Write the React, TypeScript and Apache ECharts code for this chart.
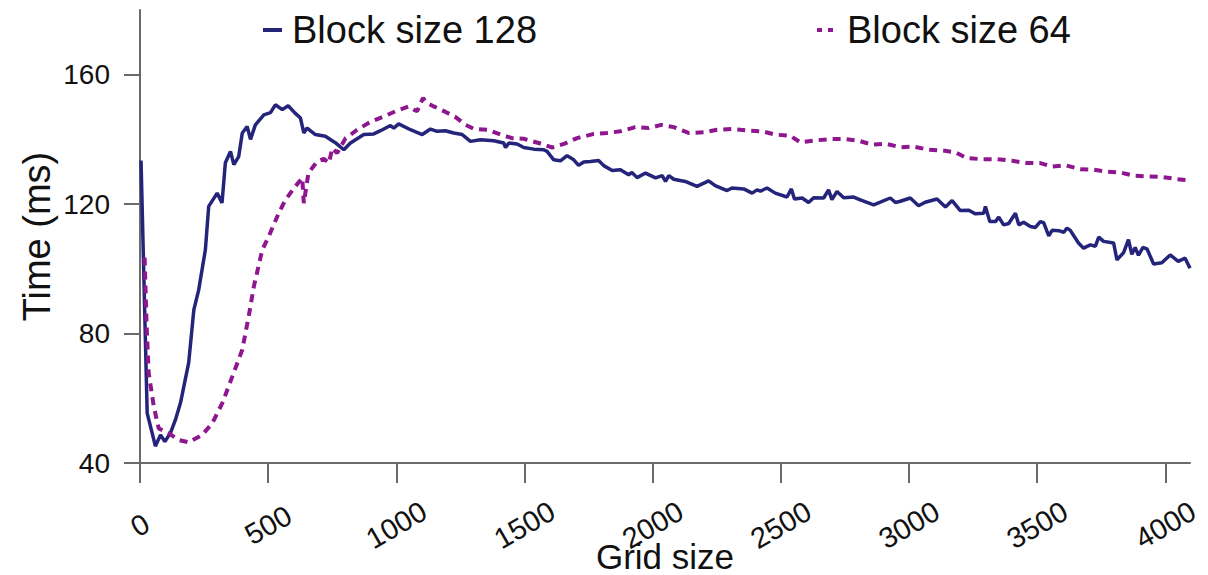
import React, { useEffect, useRef } from "react";
import * as echarts from "echarts";

const gridSize128 = [4, 28, 45, 60, 80, 97, 119, 138, 158, 190, 210, 229, 255, 268, 301, 320, 333, 353, 366, 385, 399, 418, 431, 450, 483, 509, 528, 555, 578, 604, 626, 639, 652, 684, 723, 762, 795, 821, 873, 912, 938, 977, 990, 1009, 1055, 1101, 1133, 1159, 1191, 1224, 1257, 1289, 1328, 1380, 1419, 1426, 1439, 1471, 1497, 1536, 1575, 1588, 1614, 1640, 1666, 1692, 1711, 1731, 1757, 1789, 1809, 1842, 1874, 1906, 1919, 1939, 1972, 2011, 2037, 2050, 2063, 2082, 2127, 2173, 2218, 2244, 2290, 2309, 2355, 2388, 2407, 2420, 2446, 2478, 2524, 2541, 2553, 2583, 2608, 2628, 2667, 2686, 2699, 2719, 2745, 2784, 2810, 2862, 2888, 2927, 2947, 2966, 3005, 3037, 3063, 3109, 3142, 3168, 3200, 3233, 3259, 3291, 3298, 3315, 3337, 3350, 3369, 3389, 3415, 3428, 3447, 3473, 3493, 3512, 3525, 3545, 3558, 3584, 3604, 3616, 3629, 3661, 3681, 3707, 3727, 3740, 3759, 3798, 3811, 3837, 3856, 3869, 3882, 3895, 3912, 3928, 3954, 3986, 4019, 4050, 4077, 4096];
const time128 = [133.5, 55.4, 50, 45.2, 48.7, 46.6, 49.3, 53.3, 58.6, 71, 87.3, 93.5, 105.9, 119.3, 123.4, 120.4, 132.8, 136.3, 132.2, 134.7, 142, 144, 140, 144.5, 147.6, 148.3, 150.7, 149.2, 150.4, 148.2, 146.6, 142, 143.5, 141.5, 141, 139, 136.8, 138.9, 141.5, 141.7, 142.7, 144.3, 143.5, 144.8, 143, 141.5, 143.2, 142.5, 142.7, 142, 141.5, 139.4, 139.9, 139.6, 138.9, 137.5, 138.9, 138.6, 137.5, 137, 136.8, 136.3, 133.7, 133.4, 135, 133.7, 132, 133, 133.2, 133.5, 131.9, 130.4, 130.6, 129.1, 129.8, 128.2, 129.6, 128.1, 128.8, 127, 128.8, 127.7, 127, 125.5, 127.2, 125.7, 124.2, 125, 124.7, 123.4, 124.4, 124, 125, 123.4, 122.2, 124.7, 121.6, 121.9, 120.5, 122, 121.9, 124.4, 121.4, 123.9, 122, 122.2, 121.3, 119.8, 120.6, 121.9, 120.5, 120.9, 121.9, 119.5, 120.6, 121.6, 119.1, 121.1, 118, 118.1, 117, 117.2, 119.3, 114.6, 114.6, 116, 113.6, 114, 117.2, 113.6, 114.4, 113.1, 112.8, 114.6, 114.3, 110.2, 111.9, 111.8, 111.3, 112.6, 111.9, 108, 106.4, 107.4, 107, 109.8, 108.5, 108, 102.8, 105, 109, 104.5, 106.6, 104.2, 106.6, 106.2, 101.5, 101.9, 104.3, 102.3, 103.3, 100.2];

const gridSize64 = [18, 26, 34, 54, 73, 112, 151, 190, 243, 282, 321, 360, 399, 424, 444, 477, 502, 541, 567, 606, 633, 639, 657, 691, 717, 737, 750, 769, 802, 821, 847, 899, 951, 997, 1048, 1068, 1081, 1104, 1120, 1146, 1192, 1231, 1270, 1302, 1354, 1406, 1452, 1497, 1555, 1608, 1653, 1705, 1770, 1822, 1874, 1932, 1984, 2033, 2082, 2140, 2199, 2251, 2310, 2368, 2427, 2478, 2537, 2576, 2635, 2693, 2752, 2803, 2856, 2908, 2966, 3018, 3076, 3129, 3181, 3226, 3285, 3343, 3402, 3460, 3512, 3558, 3610, 3668, 3714, 3766, 3824, 3876, 3928, 3987, 4039, 4096];
const time64 = [103.5, 82, 67.7, 57.4, 50.7, 49.2, 47.1, 46.4, 48.7, 52.3, 58.5, 66.7, 75, 85.3, 94.5, 105.9, 110, 117.2, 121.3, 125.5, 128.1, 120.3, 129.6, 133.2, 134, 132.7, 137.3, 135.8, 140.4, 141.4, 143, 145.4, 147.1, 148.7, 150.2, 149.2, 148.7, 152.8, 151.3, 150.2, 148.5, 146.9, 144.5, 143.3, 143, 141.5, 140.4, 140.2, 138.9, 137.5, 138.6, 140.4, 141.7, 142, 142.5, 143.8, 143.5, 144.5, 143.8, 142, 142.2, 143, 143.2, 142.8, 142.5, 141.5, 141.1, 139.1, 139.7, 140.1, 140.1, 139.6, 138.4, 138.7, 137.6, 137.8, 136.8, 136.6, 136, 134.2, 133.9, 133.9, 133.4, 132.7, 132.7, 131.6, 132, 130.8, 130.7, 130.1, 129.8, 128.8, 128.6, 128.4, 127.8, 127.3];

const xTicks = [0, 500, 1000, 1500, 2000, 2500, 3000, 3500, 4000];
const yTicks = [40, 80, 120, 160];

const seriesNames = ["Block size 128", "Block size 64"];
const BLUE = "#24247a";
const PURPLE = "#8e168e";
const FONT = "'Liberation Sans', Arial, sans-serif";

export default function App() {
  const ref = useRef<HTMLDivElement>(null);
  useEffect(() => {
    if (!ref.current) return;
    const chart = echarts.init(ref.current, null, { renderer: "svg" });
    const axisColor = "#6a6a6a";
    chart.setOption({
      animation: false,
      backgroundColor: "#fff",
      textStyle: { fontFamily: FONT },
      grid: { left: 140, right: 18, top: 10, bottom: 112, containLabel: false, outerBoundsMode: "none" },
      legend: [
        {
          data: [{ name: seriesNames[0], icon: "rect", itemStyle: { color: BLUE } }],
          left: 258,
          top: 6,
          itemWidth: 19,
          itemHeight: 4,
          textStyle: { fontSize: 38, color: "#111", fontFamily: FONT, padding: [0, 0, 0, 5] },
        },
        {
          data: [{ name: seriesNames[1], icon: "path://M0,0H5V4H0Z M11,0H16V4H11Z", itemStyle: { color: PURPLE } }],
          left: 812,
          top: 6,
          itemWidth: 18,
          itemHeight: 4,
          textStyle: { fontSize: 38, color: "#111", fontFamily: FONT, padding: [0, 0, 0, 8] },
        },
      ],
      xAxis: {
        type: "value",
        min: 0,
        max: 4096,
        interval: 500,
        name: "Grid size",
        nameLocation: "middle",
        nameGap: 76,
        nameMoveOverlap: false,
        nameTextStyle: { fontSize: 35, color: "#111", fontFamily: FONT },
        splitLine: { show: false },
        axisLine: { show: true, lineStyle: { color: axisColor, width: 2 } },
        axisTick: { show: true, length: 20, lineStyle: { color: axisColor, width: 2 }, customValues: xTicks },
        axisLabel: {
          customValues: xTicks,
          formatter: (v: number) => String(v),
          rotate: 30,
          align: "center",
          verticalAlign: "middle",
          margin: 62,
          fontSize: 29,
          color: "#111",
          fontFamily: FONT,
        },
      },
      yAxis: {
        type: "value",
        min: 40,
        max: 180,
        interval: 40,
        name: "Time (ms)",
        nameLocation: "middle",
        nameGap: 84,
        nameMoveOverlap: false,
        nameTextStyle: { fontSize: 38, color: "#111", fontFamily: FONT },
        splitLine: { show: false },
        axisLine: { show: true, lineStyle: { color: axisColor, width: 2 } },
        axisTick: { show: true, length: 16, lineStyle: { color: axisColor, width: 2 }, customValues: yTicks },
        axisLabel: { customValues: yTicks, formatter: (v: number) => String(v), margin: 30, fontSize: 28, color: "#111", fontFamily: FONT },
      },
      series: [
        {
          name: seriesNames[0],
          type: "line",
          data: gridSize128.map((x, i) => [x, time128[i]]),
          symbol: "none",
          color: BLUE,
          lineStyle: { color: BLUE, width: 3.5 },
        },
        {
          name: seriesNames[1],
          type: "line",
          data: gridSize64.map((x, i) => [x, time64[i]]),
          symbol: "none",
          color: PURPLE,
          lineStyle: { color: PURPLE, width: 4, type: [8, 6] },
        },
      ],
    });
    return () => chart.dispose();
  }, []);
  return <div ref={ref} style={{ position: "absolute", left: 0, top: 0, width: 1208, height: 575 }} />;
}
